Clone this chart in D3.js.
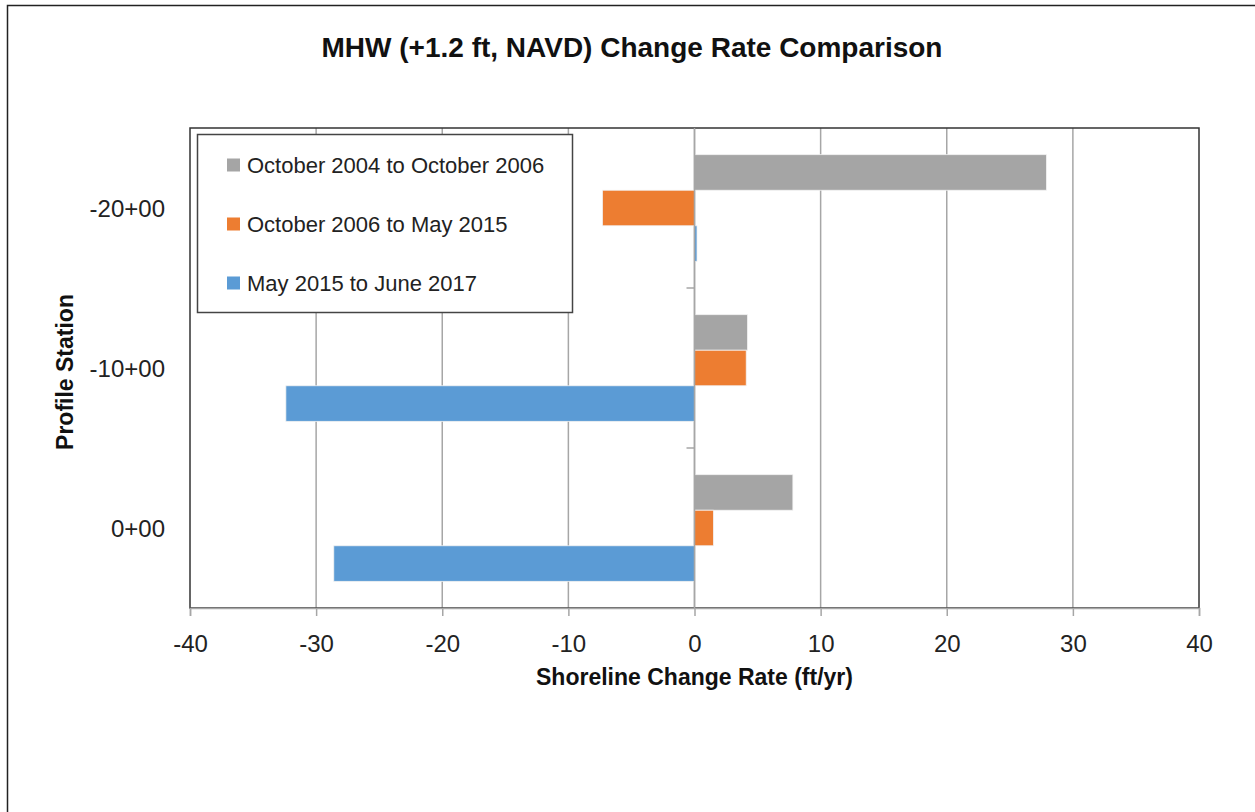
<!DOCTYPE html>
<html>
<head>
<meta charset="utf-8">
<script src = 'https://d3js.org/d3.v7.min.js'></script>
</head>

<style>
  *{
    font-family: "Liberation Sans", Arial, sans-serif;
  }
  body{
    margin: 0;
    background-color: white;
  }
</style>

<body>

<script>

// chart data
var stations = ["-20+00", "-10+00", "0+00"];
var seriesNames = ["October 2004 to October 2006", "October 2006 to May 2015", "May 2015 to June 2017"];
var rate0406 = [27.9, 4.2, 7.8];
var rate0615 = [-7.3, 4.1, 1.5];
var rate1517 = [0.2, -32.4, -28.6];
var xTicks = [-40, -30, -20, -10, 0, 10, 20, 30, 40];

var colors = ["#a5a5a5", "#ed7d31", "#5b9bd5"];

const width = 1255;
const height = 812;

// plot area  (don't call it "top", window.top is taken)
var plotL = 190, plotR = 1199, plotT = 128, plotB = 608;

const svg = d3.select('body').append('svg').attr('width', width).attr('height', height);

// outer chart border
svg.append("rect")
  .attr("x", 7.5).attr("y", 5.5)
  .attr("width", 1260).attr("height", 820)
  .attr("fill", "white")
  .attr("stroke", "#222")
  .attr("stroke-width", 1.5);

var xscale = d3.scaleLinear().domain([-40, 40]).range([plotL, plotR]);

var yscale = d3.scaleBand().domain(stations).range([plotT, plotB]).padding(0);

// bars inside one station, gap width 150%
var inner = d3.scaleBand().domain(seriesNames).range([0, yscale.bandwidth()])
  .paddingInner(0).paddingOuter(0.75);

var allSeries = [rate0406, rate0615, rate1517];
var rows = [];
seriesNames.forEach(function(s, i) {
  stations.forEach(function(st, j) {
    rows.push({series: s, station: st, value: allSeries[i][j], color: colors[i]});
  });
});

// grid lines
svg.append("g")
  .selectAll("line")
  .data(xTicks.filter(d => d > -40 && d < 40))
  .enter()
  .append("line")
  .attr("x1", d => xscale(d)).attr("x2", d => xscale(d))
  .attr("y1", plotT).attr("y2", plotB)
  .attr("stroke", "#a6a6a6")
  .attr("stroke-width", 1.5);

// plot border
svg.append("rect")
  .attr("x", plotL).attr("y", plotT)
  .attr("width", plotR - plotL).attr("height", plotB - plotT)
  .attr("fill", "none")
  .attr("stroke", "#333")
  .attr("stroke-width", 1.5);

// bars
svg.append("g")
  .selectAll("rect")
  .data(rows)
  .enter()
  .append("rect")
  .attr("x", d => xscale(Math.min(0, d.value)))
  .attr("y", d => yscale(d.station) + inner(d.series))
  .attr("width", d => Math.abs(xscale(d.value) - xscale(0)))
  .attr("height", inner.bandwidth())
  .attr("fill", d => d.color)
  .attr("stroke", "#f2f2f2")
  .attr("stroke-width", 0.8);

// x axis at the bottom
var xAxis = svg.append("g")
  .attr("transform", "translate(0," + plotB + ")")
  .call(d3.axisBottom(xscale).tickValues(xTicks).tickSize(8).tickPadding(19).tickFormat(d => String(d)));
xAxis.select(".domain").attr("stroke", "#a6a6a6").attr("stroke-width", 1.5);
xAxis.selectAll(".tick line").attr("stroke", "#a6a6a6").attr("stroke-width", 1.5);
xAxis.selectAll("text")
  .attr("font-size", 24)
  .attr("fill", "#222")
  .attr("font-family", "Liberation Sans, Arial, sans-serif");

// category axis crossing at zero, ticks on band edges
var zeroX = xscale(0);
svg.append("line")
  .attr("x1", zeroX).attr("x2", zeroX)
  .attr("y1", plotT).attr("y2", plotB)
  .attr("stroke", "#a6a6a6").attr("stroke-width", 1.5);
svg.append("g")
  .selectAll("line")
  .data(stations.slice(1))
  .enter()
  .append("line")
  .attr("x1", zeroX - 8).attr("x2", zeroX)
  .attr("y1", d => yscale(d)).attr("y2", d => yscale(d))
  .attr("stroke", "#a6a6a6").attr("stroke-width", 1.5);

// station labels at the left of the plot
svg.append("g")
  .selectAll("text")
  .data(stations)
  .enter()
  .append("text")
  .attr("x", plotL - 25)
  .attr("y", d => yscale(d) + yscale.bandwidth() / 2 + 8.5)
  .attr("text-anchor", "end")
  .attr("font-size", 24)
  .attr("fill", "#222")
  .text(d => d);

// title and axis titles
svg.append("text")
  .attr("x", 632).attr("y", 57)
  .attr("text-anchor", "middle")
  .attr("font-size", 28)
  .attr("font-weight", "bold")
  .attr("fill", "#111")
  .text("MHW (+1.2 ft, NAVD) Change Rate Comparison");

svg.append("text")
  .attr("x", xscale(0)).attr("y", 685)
  .attr("text-anchor", "middle")
  .attr("font-size", 23)
  .attr("font-weight", "bold")
  .attr("fill", "#111")
  .text("Shoreline Change Rate (ft/yr)");

svg.append("text")
  .attr("transform", "translate(73," + 372 + ") rotate(-90)")
  .attr("text-anchor", "middle")
  .attr("font-size", 23)
  .attr("font-weight", "bold")
  .attr("fill", "#111")
  .text("Profile Station");

// legend
var legend = svg.append("g");
legend.append("rect")
  .attr("x", 197.5).attr("y", 134.5)
  .attr("width", 375).attr("height", 178)
  .attr("fill", "white")
  .attr("stroke", "#444")
  .attr("stroke-width", 1.5);

var legendY = d3.scalePoint().domain(seriesNames).range([165, 283]);

legend.selectAll(".key")
  .data(seriesNames)
  .enter()
  .append("rect")
  .attr("class", "key")
  .attr("x", 227).attr("y", d => legendY(d) - 6.5)
  .attr("width", 13).attr("height", 13)
  .attr("fill", (d, i) => colors[i]);

legend.selectAll(".keytext")
  .data(seriesNames)
  .enter()
  .append("text")
  .attr("class", "keytext")
  .attr("x", 247).attr("y", d => legendY(d) + 7.5)
  .attr("font-size", 22)
  .attr("fill", "#222")
  .text(d => d);

</script>
</body>
</html>
